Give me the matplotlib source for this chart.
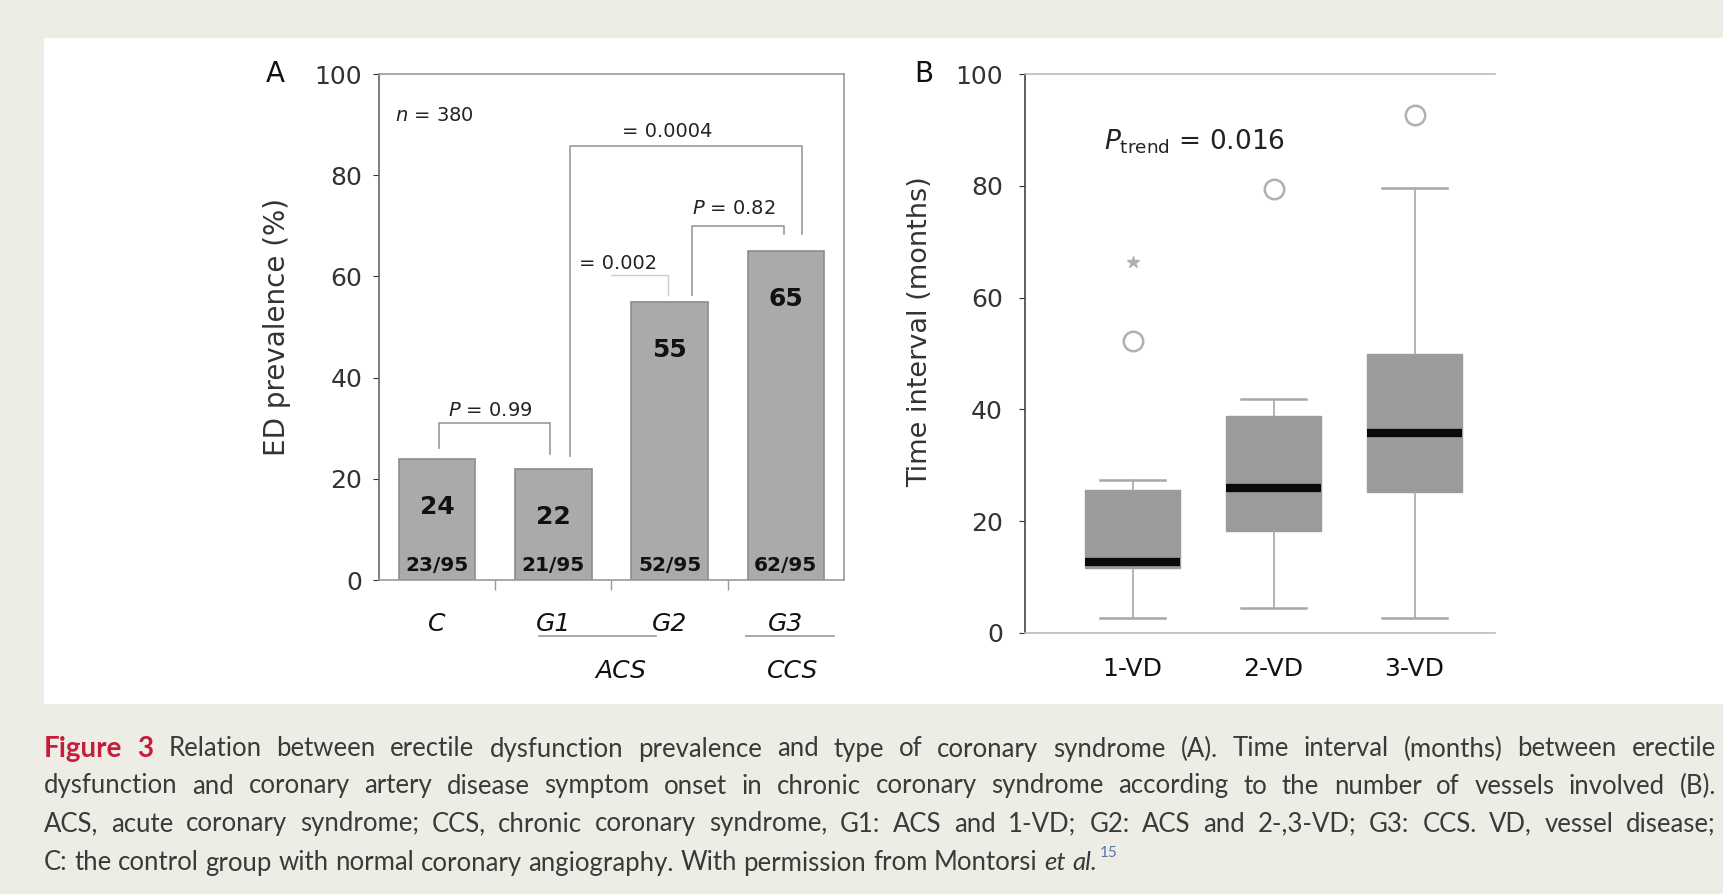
import numpy as np
import matplotlib
matplotlib.use('Agg')
import matplotlib.pyplot as plt
from matplotlib.patches import Rectangle
import matplotlib.transforms as mtransforms

# panel A data
groups = ['C', 'G1', 'G2', 'G3']
prevalence = [24, 22, 55, 65]
fractions = ['23/95', '21/95', '52/95', '62/95']

# panel B data (box statistics)
vd_labels = ['1-VD', '2-VD', '3-VD']
whislo = [2.7, 4.5, 2.7]
q1 = [11.6, 18.2, 25.3]
med = [12.7, 25.9, 35.7]
q3 = [25.5, 38.8, 50.0]
whishi = [27.3, 41.8, 79.6]
fliers = [[52.2], [79.4], [92.7]]
extreme_1vd = [66.3]

W, H = 1724, 894
fig = plt.figure(figsize=(W / 100, H / 100), dpi=100)
fig.patch.set_facecolor('#edede5')
fig.patches.append(Rectangle((44 / W, 1 - 704 / H), 1 - 44 / W, 666 / H,
                             transform=fig.transFigure, facecolor='white',
                             edgecolor='none', zorder=-10))

tick_col = '#333333'
line_col = '#9a9a9a'

# ---------------- panel A
axA = fig.add_axes([379 / W, 1 - 580 / H, 465 / W, 506 / H])
x = np.arange(len(groups))
axA.bar(x, prevalence, width=0.66, color='#aaaaaa', edgecolor='#8c8c8c', lw=1.2, zorder=2)
for i in range(len(groups)):
    axA.text(x[i], prevalence[i] - 9.5, str(prevalence[i]), ha='center', va='center',
             fontsize=18, fontweight='bold', color='#111111', zorder=3)
    axA.text(x[i], 2.8, fractions[i], ha='center', va='center',
             fontsize=14.5, fontweight='bold', color='#111111', zorder=3)
axA.set_xlim(-0.5, 3.5)
axA.set_ylim(0, 100)
axA.set_yticks(np.arange(0, 101, 20))
axA.tick_params(axis='y', labelsize=18, colors=tick_col, length=4, pad=8)
axA.set_xticks(x)
axA.set_xticklabels(groups, fontsize=18, style='italic', color='#111111')
axA.tick_params(axis='x', length=0, pad=23)
axA.set_xticks([0.5, 1.5, 2.5], minor=True)
axA.tick_params(axis='x', which='minor', length=7, color=line_col, width=1)
for s in axA.spines.values():
    s.set_color(line_col)
    s.set_linewidth(1.2)
axA.spines['left'].set_color('#666666')
axA.set_ylabel('ED prevalence (%)', fontsize=20, color=tick_col)
axA.yaxis.set_label_coords(-0.19, 0.5)

# group underlines and labels
tr = mtransforms.blended_transform_factory(axA.transData, axA.transAxes)
axA.plot([0.88, 1.88], [-0.111, -0.111], color=line_col, lw=1.2, transform=tr, clip_on=False)
axA.plot([2.66, 3.41], [-0.111, -0.111], color=line_col, lw=1.2, transform=tr, clip_on=False)
axA.text(1.58, -0.18, 'ACS', transform=tr, ha='center', va='center', fontsize=18, style='italic', color='#111111')
axA.text(3.06, -0.18, 'CCS', transform=tr, ha='center', va='center', fontsize=18, style='italic', color='#111111')

# significance brackets
bk = dict(color=line_col, lw=1.2, zorder=1)
axA.plot([0.02, 0.02, 0.97, 0.97], [prevalence[0] + 2, 31, 31, prevalence[1] + 3], **bk)
axA.text(0.46, 33.5, r'$P$ = 0.99', ha='center', va='center', fontsize=14, color='#222222')
axA.plot([1.14, 1.14, 3.14, 3.14], [prevalence[1] + 2.5, 85.7, 85.7, prevalence[3] + 3.3], **bk)
axA.text(1.98, 88.6, '= 0.0004', ha='center', va='center', fontsize=14, color='#222222')
axA.plot([1.5, 1.99, 1.99], [60.3, 60.3, prevalence[2] + 1.4], color='#cccccc', lw=1, zorder=1)
axA.text(1.56, 62.6, '= 0.002', ha='center', va='center', fontsize=14, color='#222222',
         bbox=dict(facecolor='white', edgecolor='none', pad=1))
axA.plot([2.19, 2.19, 2.98, 2.98], [prevalence[2] + 1.4, 70, 70, prevalence[3] + 3.3], **bk)
axA.text(2.55, 73.5, r'$P$ = 0.82', ha='center', va='center', fontsize=14, color='#222222')
axA.text(-0.36, 91.8, r'$n$ = 380', ha='left', va='center', fontsize=14, color='#222222')

# ---------------- panel B
axB = fig.add_axes([1025 / W, 1 - 633 / H, 470 / W, 559 / H])
stats = []
for i in range(len(vd_labels)):
    stats.append(dict(label=vd_labels[i], whislo=whislo[i], q1=q1[i], med=med[i],
                      q3=q3[i], whishi=whishi[i], fliers=fliers[i]))
axB.bxp(stats, positions=[1, 2, 3], widths=0.67, capwidths=0.46, patch_artist=True,
        boxprops=dict(facecolor='#9b9b9b', edgecolor='#9b9b9b', lw=1),
        medianprops=dict(color='#0a0a0a', lw=6, solid_capstyle='butt'),
        whiskerprops=dict(color='#a8a8a8', lw=1.2),
        capprops=dict(color='#a8a8a8', lw=1.8),
        flierprops=dict(marker='o', markerfacecolor='none', markeredgecolor='#b0b0b0',
                        markersize=14, markeredgewidth=1.8))
axB.plot([1] * len(extreme_1vd), extreme_1vd, ls='none', marker='*', color='#b0b0b0', ms=9)
axB.set_xlim(0.237, 3.57)
axB.set_ylim(0, 100)
axB.set_yticks(np.arange(0, 101, 20))
axB.tick_params(axis='y', labelsize=18, colors=tick_col, length=4, pad=12)
axB.tick_params(axis='x', labelsize=18, length=0, pad=17, colors='#111111')
for s in axB.spines.values():
    s.set_color('#bbbbbb')
    s.set_linewidth(1.2)
axB.spines['left'].set_color('#444444')
axB.spines['right'].set_visible(False)
axB.set_ylabel('Time interval (months)', fontsize=19.5, color=tick_col)
axB.yaxis.set_label_coords(-0.195, 0.54)
axB.text(0.8, 87.8, r'$P_{\mathrm{trend}}$ = 0.016', ha='left', va='center', fontsize=19, color='#222222')

fig.text(275 / W, 1 - 74 / H, 'A', fontsize=20, ha='center', va='center', color='#111111')
fig.text(924 / W, 1 - 74 / H, 'B', fontsize=20, ha='center', va='center', color='#111111')

# ---------------- caption, justified
cap_lines = [
    [('Figure 3', 'head'), ('Relation between erectile dysfunction prevalence and type of coronary '
                            'syndrome (A). Time interval (months) between erectile', 'body')],
    [('dysfunction and coronary artery disease symptom onset in chronic coronary syndrome '
      'according to the number of vessels involved (B).', 'body')],
    [('ACS, acute coronary syndrome; CCS, chronic coronary syndrome, G1: ACS and 1-VD; '
      'G2: ACS and 2-,3-VD; G3: CCS. VD, vessel disease;', 'body')],
    [('C: the control group with normal coronary angiography. With permission from Montorsi', 'body'),
     ('et al.', 'ital')],
]
cap_y = [749, 786, 824, 863]
styles = {'head': dict(color='#c41e3a', fontweight='bold', fontsize=20),
          'body': dict(color='#3a3a3a', fontsize=18.5),
          'ital': dict(color='#3a3a3a', style='italic', fontsize=18.5)}
x_left, x_right = 44, 1716
rend = fig.canvas.get_renderer()
for li, segs in enumerate(cap_lines):
    words = []
    for txt, st in segs:
        for w in txt.split(' '):
            words.append((w, st))
    arts, widths = [], []
    for w, st in words:
        t = fig.text(0, 1 - cap_y[li] / H, w, va='center', ha='left', family='Lato', **styles[st])
        arts.append(t)
        widths.append(t.get_window_extent(renderer=rend).width)
    sp = fig.text(0, 0, 'a a', family='Lato', fontsize=18.5).get_window_extent(renderer=rend).width - \
        fig.text(0, 0, 'aa', family='Lato', fontsize=18.5).get_window_extent(renderer=rend).width
    for t in fig.texts[-2:]:
        t.remove()
    if li < len(cap_lines) - 1:
        gap = (x_right - x_left - sum(widths)) / (len(words) - 1)
        gap = max(gap, sp * 0.6)
    else:
        gap = sp
    xp = x_left
    for t, wd in zip(arts, widths):
        t.set_x(xp / W)
        xp += wd + gap
    if li == len(cap_lines) - 1:
        fig.text((xp - gap + 3) / W, 1 - (cap_y[li] - 10) / H, '15', fontsize=11,
                 family='Lato', color='#5577aa', va='center', ha='left')

fig.savefig('out.png', dpi=100, facecolor=fig.get_facecolor())
